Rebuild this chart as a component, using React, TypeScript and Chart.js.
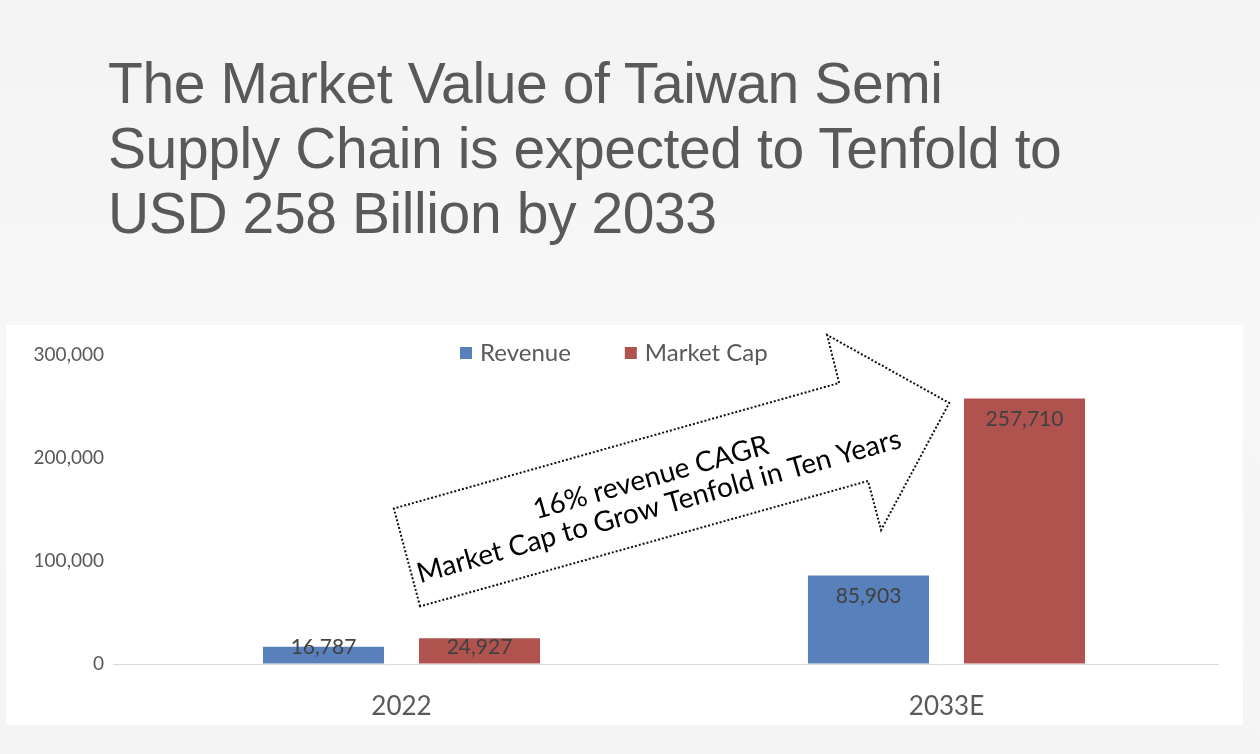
import React, { useEffect, useRef } from "react";
import { Chart, registerables } from "chart.js";

Chart.register(...registerables);

const titleLines = [
  "The Market Value of Taiwan Semi",
  "Supply Chain is expected to Tenfold to",
  "USD 258 Billion by 2033",
];
const categories = ["2022", "2033E"];
const seriesNames = ["Revenue", "Market Cap"];
const revenue = [16787, 85903];
const marketCap = [24927, 257710];
const seriesColors = ["#5880BA", "#B0534F"];
const yMax = 300000;
const yStep = 100000;
const arrowLines = ["16% revenue CAGR", "Market Cap to Grow Tenfold in Ten Years"];
// block-arrow outline, in (category index, value) units
const arrowIdx = [0.034, -0.014, 0.803, 0.781, 1.005, 0.88, 0.856];
const arrowVal = [56000, 151000, 272800, 319400, 253400, 130100, 177700];
const arrowTextIdx = 0.465;
const arrowTextVal = 167000;

const CHART_FONT = "Lato, 'Open Sans', sans-serif";

const fmt = (v: number) => v.toLocaleString("en-US");

const overlayPlugin = {
  id: "overlay",
  beforeDatasetsDraw(chart: any) {
    const { ctx, chartArea, scales } = chart;
    const by = Math.round(scales.y.getPixelForValue(0)) + 0.5;
    ctx.save();
    ctx.strokeStyle = "#d9d9d9";
    ctx.lineWidth = 1;
    ctx.beginPath();
    ctx.moveTo(chartArea.left - 16, by);
    ctx.lineTo(chartArea.right, by);
    ctx.stroke();
    ctx.restore();
  },
  afterDatasetsDraw(chart: any) {
    const { ctx } = chart;
    ctx.save();
    ctx.font = `21px ${CHART_FONT}`;
    ctx.fillStyle = "#404040";
    ctx.textAlign = "center";
    ctx.textBaseline = "middle";
    chart.data.datasets.forEach((ds: any, di: number) => {
      const meta = chart.getDatasetMeta(di);
      meta.data.forEach((bar: any, i: number) => {
        const cy = Math.min(bar.y + 21, bar.base - 16);
        ctx.fillText(fmt(ds.data[i]), bar.x, cy);
      });
    });
    ctx.restore();
  },
  afterDraw(chart: any) {
    const { ctx, chartArea, scales } = chart;
    const xs = scales.x;
    const ys = scales.y;
    // legend
    ctx.save();
    ctx.font = `24px ${CHART_FONT}`;
    ctx.textBaseline = "middle";
    ctx.textAlign = "left";
    let lx = chartArea.left + 331;
    const ly = chartArea.top - 2;
    chart.data.datasets.forEach((ds: any) => {
      ctx.fillStyle = ds.backgroundColor;
      ctx.fillRect(lx, ly - 6, 12, 12);
      ctx.fillStyle = "#595959";
      ctx.fillText(ds.label, lx + 20, ly);
      lx += 20 + ctx.measureText(ds.label).width + 54;
    });
    ctx.restore();

    // arrow
    const pts = arrowIdx.map((v, i) => [xs.getPixelForValue(v), ys.getPixelForValue(arrowVal[i])]);
    ctx.save();
    ctx.strokeStyle = "#111";
    ctx.lineWidth = 2;
    ctx.setLineDash([2, 2]);
    ctx.beginPath();
    pts.forEach((p, i) => (i === 0 ? ctx.moveTo(p[0], p[1]) : ctx.lineTo(p[0], p[1])));
    ctx.closePath();
    ctx.stroke();
    ctx.restore();

    // arrow text
    const ang = Math.atan2(pts[2][1] - pts[1][1], pts[2][0] - pts[1][0]);
    const tx = xs.getPixelForValue(arrowTextIdx);
    const ty = ys.getPixelForValue(arrowTextVal);
    ctx.save();
    ctx.translate(tx, ty);
    ctx.rotate(ang);
    ctx.font = `28px ${CHART_FONT}`;
    ctx.fillStyle = "#000";
    ctx.textAlign = "center";
    ctx.textBaseline = "middle";
    ctx.fillText(arrowLines[0], 0, -15);
    ctx.fillText(arrowLines[1], 0, 15);
    ctx.restore();
  },
};

function BarChart() {
  const ref = useRef<HTMLCanvasElement | null>(null);
  useEffect(() => {
    if (!ref.current) return;
    const chart = new Chart(ref.current, {
      type: "bar",
      data: {
        labels: categories,
        datasets: [
          { label: seriesNames[0], data: revenue, backgroundColor: seriesColors[0] },
          { label: seriesNames[1], data: marketCap, backgroundColor: seriesColors[1] },
        ],
      },
      options: {
        responsive: false,
        animation: false,
        devicePixelRatio: 1,
        layout: { padding: { top: 30, right: 24, left: 0, bottom: 0 } },
        datasets: { bar: { categoryPercentage: 0.5725, barPercentage: 0.776 } },
        plugins: { legend: { display: false }, tooltip: { enabled: false } },
        scales: {
          x: {
            grid: { display: false },
            border: { display: false },
            ticks: { color: "#595959", font: { family: CHART_FONT, size: 26 }, padding: 19 },
            afterFit: (s: any) => {
              s.height = 61;
            },
          },
          y: {
            min: 0,
            max: yMax,
            grid: {
              display: true,
              drawOnChartArea: false,
              drawTicks: true,
              tickLength: 25,
              color: "rgba(0,0,0,0)",
            },
            border: { display: false },
            ticks: {
              stepSize: yStep,
              color: "#595959",
              font: { family: CHART_FONT, size: 19 },
              padding: 0,
              callback: (v: any) => fmt(Number(v)),
            },
            afterFit: (s: any) => {
              s.width = 123;
            },
          },
        },
      },
      plugins: [overlayPlugin],
    });
    return () => chart.destroy();
  }, []);
  return <canvas ref={ref} width={1237} height={400} style={{ display: "block" }} />;
}

export default function App() {
  return (
    <div
      style={{
        position: "fixed",
        left: 0,
        top: 0,
        width: 1260,
        height: 754,
        background: "linear-gradient(180deg, #f3f3f3 0%, #f7f7f7 40%, #f4f4f4 100%)",
        overflow: "hidden",
      }}
    >
      <div
        style={{
          position: "absolute",
          left: 108,
          top: 51,
          fontFamily: "'Liberation Sans', Arial, sans-serif",
          fontSize: 57,
          letterSpacing: "-0.4px",
          lineHeight: "65px",
          color: "#595959",
          whiteSpace: "nowrap",
        }}
      >
        {titleLines.map((t, i) => (
          <div key={i}>{t}</div>
        ))}
      </div>
      <div style={{ position: "absolute", left: 6, top: 325, width: 1237, height: 400, background: "#fff" }}>
        <BarChart />
      </div>
    </div>
  );
}
